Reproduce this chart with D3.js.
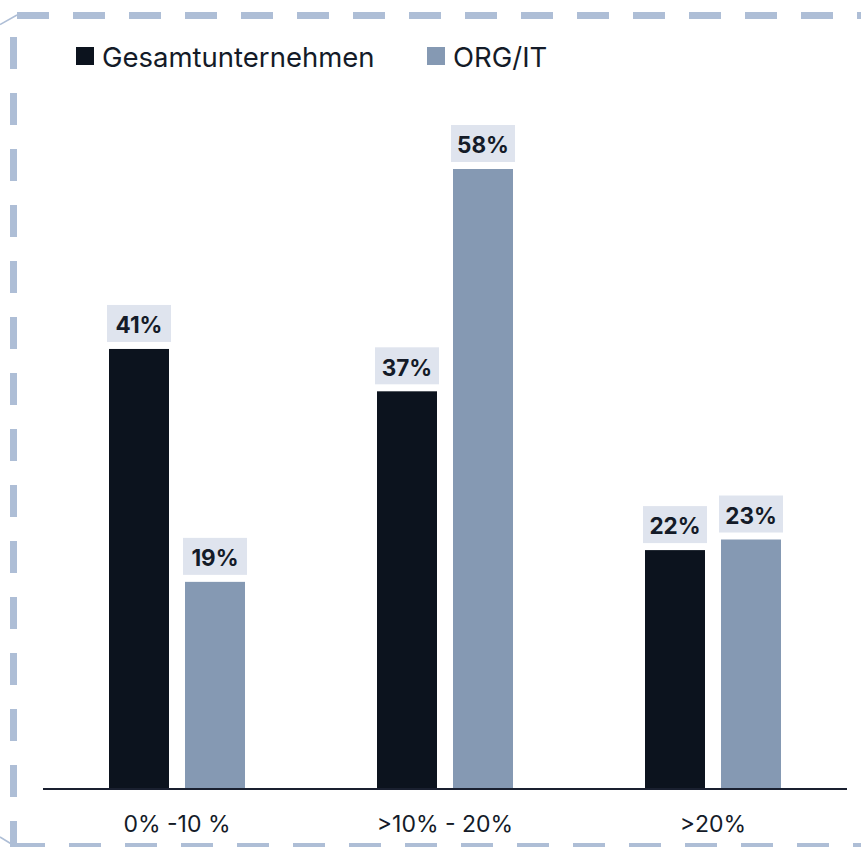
<!DOCTYPE html>
<html>
<head>
<meta charset="utf-8">
<script src="https://cdn.jsdelivr.net/npm/d3@7/dist/d3.min.js"></script>
<style>
  html, body { margin: 0; padding: 0; background: #ffffff; }
  svg { display: block; font-family: Inter, "Noto Sans", sans-serif; }
</style>
</head>
<body>
<svg id="chart" width="861" height="847"></svg>
<script>
// Bandbreiten und Anteile je Gruppe
const categories = ["0% -10 %", ">10% - 20%", ">20%"];
const seriesNames = ["Gesamtunternehmen", "ORG/IT"];
const gesamt = [41, 37, 22];
const orgIt = [19, 58, 23];
const seriesColors = ["#0c131e", "#8599b3"];

const W = 861, H = 847;
const baseY = 789;
const svg = d3.select("#chart");

// Gestrichelter Rahmen
const frame = svg.append("g")
  .attr("fill", "none")
  .attr("stroke", "#aebed6")
  .attr("stroke-width", 7)
  .attr("stroke-dasharray", "32 24");
frame.append("line").attr("x1", 17).attr("y1", 15.5).attr("x2", W + 40).attr("y2", 15.5);
frame.append("line").attr("x1", 13.5).attr("y1", 37).attr("x2", 13.5).attr("y2", H + 40);
frame.append("line").attr("x1", 13).attr("y1", 846.5).attr("x2", W + 40).attr("y2", 846.5);
svg.append("path")
  .attr("d", "M0,24.5L17,15 M0,837L13,845")
  .attr("stroke", "#aebed6").attr("stroke-width", 1.5).attr("fill", "none");

// Skalen
const x0 = d3.scaleBand().domain(categories).range([43, 847]).padding(0);
const x1 = d3.scaleBand().domain(seriesNames).range([0, 136]).paddingInner(16 / 76);
const y = d3.scaleLinear().domain([0, 58]).range([783, 169]);

const rows = categories.map((c, i) => ({ cat: c, values: [gesamt[i], orgIt[i]] }));

const groups = svg.append("g").selectAll("g")
  .data(rows).join("g")
  .attr("transform", d => `translate(${x0(d.cat) + (x0.bandwidth() - 136) / 2},0)`);

const bars = groups.selectAll("g.bar")
  .data(d => d.values.map((v, j) => ({ key: seriesNames[j], value: v, j })))
  .join("g").attr("class", "bar");

// Balken reichen bis zur Achsenlinie
bars.append("rect")
  .attr("x", d => x1(d.key))
  .attr("y", d => y(d.value))
  .attr("width", x1.bandwidth())
  .attr("height", d => baseY - y(d.value))
  .attr("fill", d => seriesColors[d.j]);

// Wertelabels mit hinterlegtem Kasten
bars.append("rect")
  .attr("x", d => x1(d.key) + x1.bandwidth() / 2 - 32)
  .attr("y", d => y(d.value) - 7 - 37)
  .attr("width", 64)
  .attr("height", 37)
  .attr("fill", "#dfe4ee");

bars.append("text")
  .attr("x", d => x1(d.key) + x1.bandwidth() / 2)
  .attr("y", d => y(d.value) - 7 - 16.5)
  .attr("dy", "0.35em")
  .attr("text-anchor", "middle")
  .attr("font-size", 22.5)
  .attr("font-weight", 700)
  .attr("fill", "#141b28")
  .text(d => d.value + "%");

// x-Achse
const xAxis = svg.append("g")
  .attr("transform", `translate(0,${baseY})`)
  .call(d3.axisBottom(x0).tickSize(0));
xAxis.select(".domain").attr("stroke", "#1a2030").attr("stroke-width", 2).attr("d", "M43,0H847");
xAxis.selectAll("text")
  .attr("y", 43)
  .attr("dy", 0)
  .attr("font-size", 23)
  .attr("font-family", "Inter, 'Noto Sans', sans-serif")
  .attr("fill", "#141b28");

// Legende
const legendX = [76, 427];
const legend = svg.append("g").selectAll("g")
  .data(seriesNames).join("g")
  .attr("transform", (d, i) => `translate(${legendX[i]},47)`);
legend.append("rect")
  .attr("width", 18).attr("height", 18)
  .attr("fill", (d, i) => seriesColors[i]);
legend.append("text")
  .attr("x", 26).attr("y", 20)
  .attr("font-size", 27.5)
  .attr("fill", "#141b28")
  .text(d => d);
</script>
</body>
</html>
